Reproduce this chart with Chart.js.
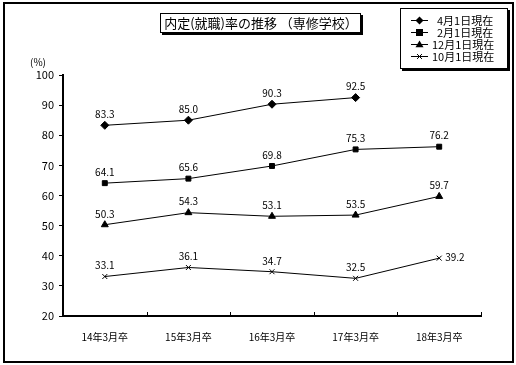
<!DOCTYPE html>
<html>
<head>
<meta charset="utf-8">
<script src="https://cdn.jsdelivr.net/npm/chart.js@4/dist/chart.umd.min.js"></script>
<style>
  html, body { margin: 0; padding: 0; background: #fff; }
  #wrap { width: 516px; height: 365px; }
</style>
</head>
<body>
<div id="wrap"><canvas id="myChart" width="516" height="365"></canvas></div>
<script>
// chart data
const categories = ['14年3月卒', '15年3月卒', '16年3月卒', '17年3月卒', '18年3月卒'];
const seriesNames = ['4月1日現在', '2月1日現在', '12月1日現在', '10月1日現在'];
const april = [83.3, 85.0, 90.3, 92.5, null];
const february = [64.1, 65.6, 69.8, 75.3, 76.2];
const december = [50.3, 54.3, 53.1, 53.5, 59.7];
const october = [33.1, 36.1, 34.7, 32.5, 39.2];
const yMin = 20;
const yMax = 100;
const yStep = 10;

const FONT = '"Noto Sans CJK JP", "Noto Sans", sans-serif';
const styles = ['rectRot', 'rect', 'triangle', 'crossRot'];
const radii = [4, 3.5, 4, 3.5];

function makeSet(i, values) {
  return {
    label: seriesNames[i],
    data: values,
    borderColor: '#000',
    backgroundColor: '#000',
    borderWidth: 1,
    pointStyle: styles[i],
    pointRadius: radii[i],
    pointBorderWidth: 1,
    tension: 0,
    spanGaps: false
  };
}

// small marker for the legend box
function marker(ctx, style, r, x, y) {
  ctx.beginPath();
  if (style === 'rectRot') {
    ctx.moveTo(x, y - r); ctx.lineTo(x + r, y); ctx.lineTo(x, y + r); ctx.lineTo(x - r, y);
    ctx.closePath(); ctx.fill();
  } else if (style === 'rect') {
    ctx.fillRect(x - r, y - r, r * 2, r * 2);
  } else if (style === 'triangle') {
    ctx.moveTo(x, y - r); ctx.lineTo(x + r, y + r * 0.7); ctx.lineTo(x - r, y + r * 0.7);
    ctx.closePath(); ctx.fill();
  } else {
    const d = r * 0.7;
    ctx.moveTo(x - d, y - d); ctx.lineTo(x + d, y + d);
    ctx.moveTo(x + d, y - d); ctx.lineTo(x - d, y + d);
    ctx.stroke();
  }
}

// outer frame, title box, legend box, value labels, x ticks
const decorations = {
  id: 'decorations',
  beforeDraw(chart) {
    const ctx = chart.ctx;
    ctx.save();
    ctx.fillStyle = '#fff';
    ctx.fillRect(0, 0, chart.width, chart.height);
    ctx.restore();
  },
  afterDraw(chart) {
    const ctx = chart.ctx;
    const x = chart.scales.x;
    const area = chart.chartArea;
    ctx.save();

    // outer frame
    ctx.strokeStyle = '#000';
    ctx.lineWidth = 2;
    ctx.strokeRect(4, 3, 509, 359);

    // x axis ticks between categories (pointing up)
    ctx.lineWidth = 1;
    const half = (x.getPixelForValue(1) - x.getPixelForValue(0)) / 2;
    for (let i = 0; i < categories.length; i++) {
      const px = Math.round(x.getPixelForValue(i) + half) + 0.5;
      ctx.beginPath();
      ctx.moveTo(px, area.bottom);
      ctx.lineTo(px, area.bottom - 4);
      ctx.stroke();
    }

    // (%) label
    ctx.fillStyle = '#000';
    ctx.font = '10px ' + FONT;
    ctx.textAlign = 'center';
    ctx.textBaseline = 'middle';
    ctx.fillText('(%)', 38, 62);

    // value labels
    chart.data.datasets.forEach((ds, di) => {
      const meta = chart.getDatasetMeta(di);
      meta.data.forEach((pt, i) => {
        const v = ds.data[i];
        if (v === null) return;
        const txt = v.toFixed(1);
        if (di === 3 && i === categories.length - 1) {
          ctx.textAlign = 'left';
          ctx.fillText(txt, pt.x + 6, pt.y - 1);
        } else {
          ctx.textAlign = 'center';
          ctx.fillText(txt, pt.x, pt.y - 11);
        }
      });
    });

    // title box
    ctx.fillStyle = '#000';
    ctx.fillRect(162, 15, 201, 20);
    ctx.fillStyle = '#fff';
    ctx.fillRect(160, 13, 201, 20);
    ctx.strokeStyle = '#000';
    ctx.lineWidth = 1;
    ctx.strokeRect(160.5, 13.5, 200, 19);
    ctx.fillStyle = '#000';
    ctx.font = '13px ' + FONT;
    ctx.textAlign = 'center';
    ctx.fillText('内定(就職)率の推移 （専修学校）', 261, 23.5);

    // legend box
    ctx.fillRect(402, 10, 108, 61);
    ctx.fillStyle = '#fff';
    ctx.fillRect(400, 8, 108, 61);
    ctx.strokeRect(400.5, 8.5, 107, 60);
    const rows = [20, 32, 44, 56];
    const textX = [437, 437, 432, 432];
    ctx.font = '11px ' + FONT;
    ctx.textAlign = 'left';
    chart.data.datasets.forEach((ds, di) => {
      const y = rows[di] + 0.5;
      ctx.strokeStyle = '#000';
      ctx.fillStyle = '#000';
      ctx.lineWidth = 1;
      ctx.beginPath();
      ctx.moveTo(411, y);
      ctx.lineTo(428, y);
      ctx.stroke();
      marker(ctx, styles[di], radii[di], 419.5, y);
      ctx.fillText(ds.label, textX[di], rows[di] + 1);
    });

    ctx.restore();
  }
};

const config = {
  type: 'line',
  data: {
    labels: categories,
    datasets: [makeSet(0, april), makeSet(1, february), makeSet(2, december), makeSet(3, october)]
  },
  options: {
    responsive: false,
    animation: false,
    devicePixelRatio: 1,
    layout: {
      padding: { left: 0, top: 75, right: 35, bottom: 19 }
    },
    plugins: {
      legend: { display: false },
      title: { display: false },
      tooltip: { enabled: false }
    },
    scales: {
      x: {
        type: 'category',
        offset: true,
        grid: { display: false },
        border: { display: true, color: '#000', width: 2 },
        ticks: {
          color: '#000',
          font: { family: FONT, size: 10 },
          padding: 7,
          maxRotation: 0
        },
        afterFit(scale) { scale.height = 30; }
      },
      y: {
        min: yMin,
        max: yMax,
        grid: {
          display: true,
          drawOnChartArea: false,
          drawTicks: true,
          tickLength: 4,
          color: '#000'
        },
        border: { display: true, color: '#000', width: 2 },
        ticks: {
          stepSize: yStep,
          color: '#000',
          font: { family: FONT, size: 11 },
          padding: 5
        },
        afterFit(scale) { scale.width = 63; }
      }
    }
  },
  plugins: [decorations]
};

const myChart = new Chart(document.getElementById('myChart'), config);
</script>
</body>
</html>
